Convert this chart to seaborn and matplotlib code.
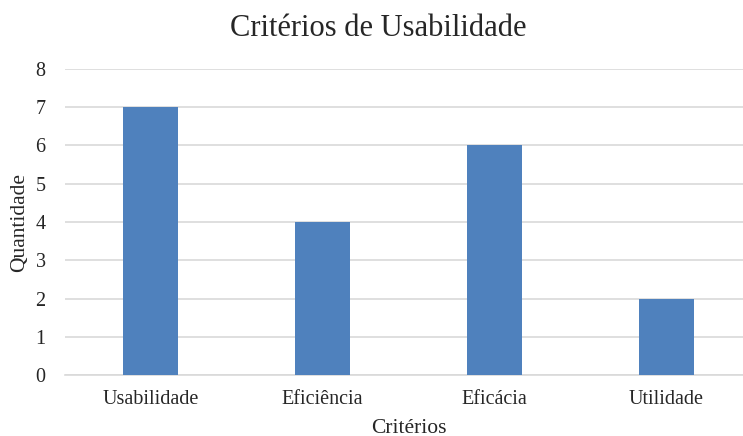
import matplotlib
matplotlib.use("Agg")
import matplotlib.pyplot as plt
import seaborn as sns
import pandas as pd

categories = ["Usabilidade", "Eficiência", "Eficácia", "Utilidade"]
values = [7, 4, 6, 2]
yticks = [0, 1, 2, 3, 4, 5, 6, 7, 8]

sns.set_theme(style="white")
plt.rcParams['font.family'] = ['Liberation Serif', 'DejaVu Serif']

df = pd.DataFrame({"Critérios": categories, "Quantidade": values})

fig = plt.figure(figsize=(7.43, 4.36), dpi=100)
ax = fig.add_axes([65/743, 1-375/436, (752-65)/743, (375-69)/436])
sns.barplot(data=df, x="Critérios", y="Quantidade", color="#4F81BD",
            saturation=1, width=0.32, ax=ax, zorder=3, linewidth=0, edgecolor="none")
ax.set_ylim(0, 8)
ax.set_yticks(yticks)
ax.set_xlim(-0.5, 3.5)
ax.yaxis.grid(True, color="#D9D9D9", linewidth=1.2, zorder=0)
ax.set_axisbelow(True)
for s in ["top", "right", "left"]:
    ax.spines[s].set_visible(False)
ax.spines["bottom"].set_color("#D9D9D9")
ax.spines["bottom"].set_linewidth(1.2)
ax.tick_params(axis="both", length=0, labelsize=14.5, colors="#262626")
ax.tick_params(axis="y", pad=14)
ax.tick_params(axis="x", pad=11)
ax.set_xlabel("")
ax.set_ylabel("")
fig.text(409/743, 1-428/436, "Critérios", ha="center", va="center",
         fontsize=15.5, color="#262626")
fig.text(20/743, 1-222/436, "Quantidade", rotation=90, ha="center", va="center",
         fontsize=15.5, color="#262626")
fig.text(378/743, 1-29/436, "Critérios de Usabilidade", ha="center", va="center",
         fontsize=22, color="#262626")
fig.savefig("out.png", dpi=100)
